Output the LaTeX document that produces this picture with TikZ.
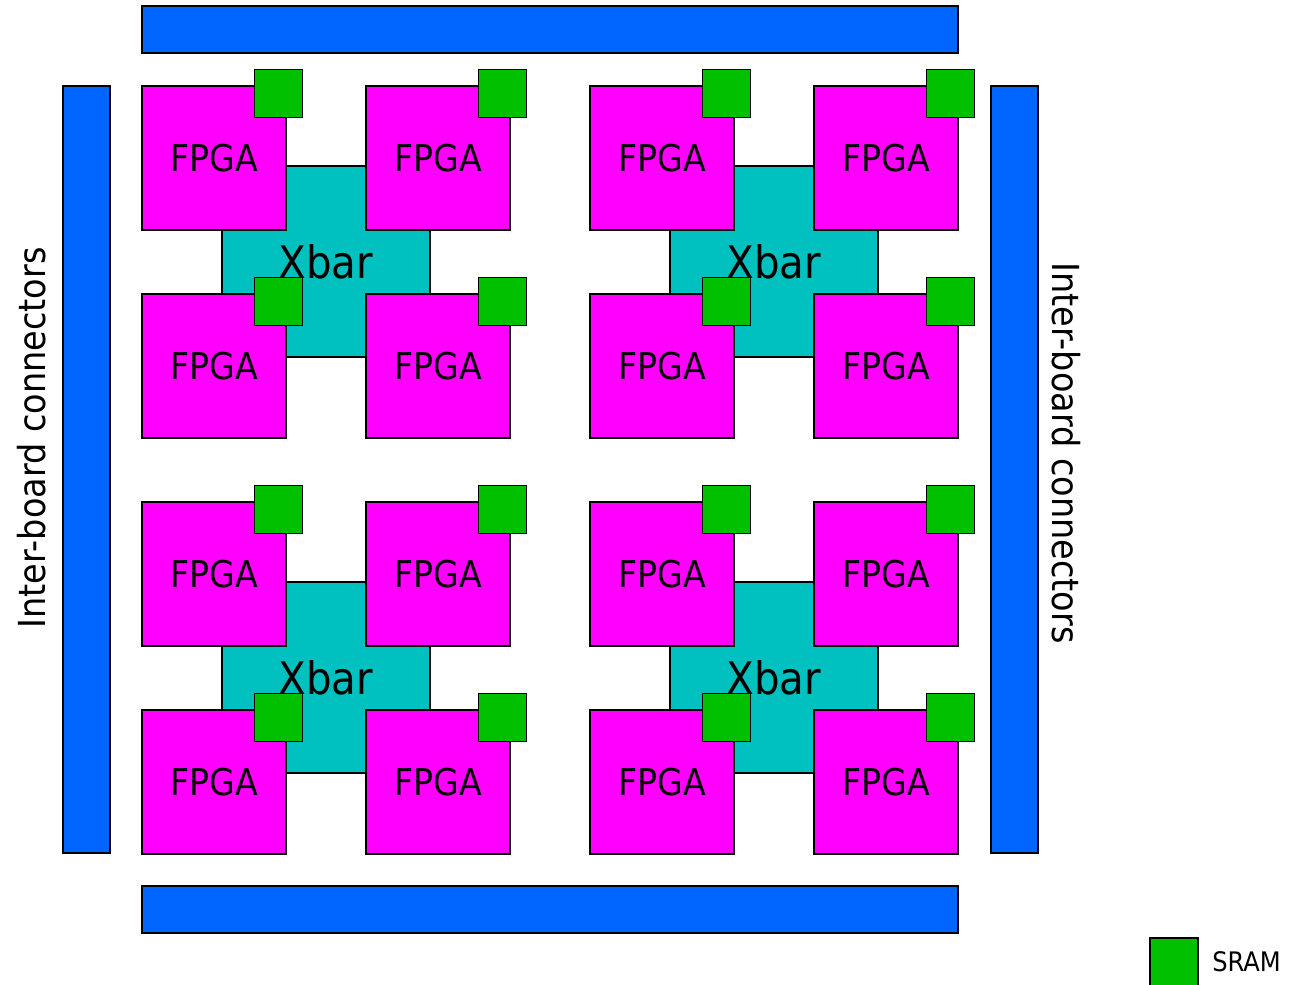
\documentclass[tikz,border=0pt]{standalone}
\usepackage{fontspec}
\setmainfont{DejaVu Sans Condensed}
\usepackage{tikz}
\usetikzlibrary{positioning}
\definecolor{connblue}{RGB}{0,102,255}
\definecolor{fpgamag}{RGB}{255,0,255}
\definecolor{xbarteal}{RGB}{0,192,192}
\definecolor{sramgreen}{RGB}{0,192,0}

\begin{document}
\begin{tikzpicture}[
      x=0.02cm, y=-0.02cm, line width=0.8pt,
      fpga/.style={rectangle, draw, fill=fpgamag, minimum width=2.88cm,
        minimum height=2.88cm, inner sep=0pt, font=\fontsize{21}{24}\selectfont},
      xbar/.style={rectangle, draw, fill=xbarteal, minimum width=4.16cm,
        minimum height=3.82cm, inner sep=0pt, font=\fontsize{25.5}{30}\selectfont},
      sram/.style={rectangle, draw, fill=sramgreen, minimum size=0.96cm, inner sep=0pt},
      hconn/.style={rectangle, draw, fill=connblue, minimum width=16.32cm,
        minimum height=0.94cm, inner sep=0pt},
      vconn/.style={rectangle, draw, fill=connblue, minimum width=0.94cm,
        minimum height=15.34cm, inner sep=0pt},
      conn label/.style={font=\fontsize{21.2}{24}\selectfont},
  ]

      \useasboundingbox (0,0) rectangle (1290,984);

      % Conectores entre placas
      \node[hconn] (top) at (550,29.5) {};
      \node[hconn] (bottom) at (550,909.5) {};
      \node[vconn] (left) at (86.5,469.5) {};
      \node[vconn] (right) at (1014.5,469.5) {};
      \node[conn label, rotate=90] (leftlabel) at (32,438) {Inter-board connectors};
      \node[conn label, rotate=-90] (rightlabel) at (1066,453) {Inter-board connectors};

      % Blocos: Xbar + 4 FPGA + SRAM
      \foreach \bx in {0,1}
        \foreach \by in {0,1} {
          \pgfmathsetmacro\ox{142+448*\bx}
          \pgfmathsetmacro\oy{86+416*\by}
          \node[xbar] (xbar\bx\by) at (\ox+184,\oy+175.5) {Xbar};
          \foreach \fx/\fy [count=\i] in {72/72,296/72,72/280,296/280} {
            \node[fpga] (fpga\bx\by\i) at (\ox+\fx,\oy+\fy) {FPGA};
            \node[sram] (sram\bx\by\i) at ([shift={(-8,8)}]fpga\bx\by\i.north east) {};
          }
        }

      % Legenda
      \node[sram] (key) at (1174,962) {};
      \node[right=0.14cm of key, font=\fontsize{15.3}{18}\selectfont] (keylabel) {SRAM};

  \end{tikzpicture}
\end{document}
